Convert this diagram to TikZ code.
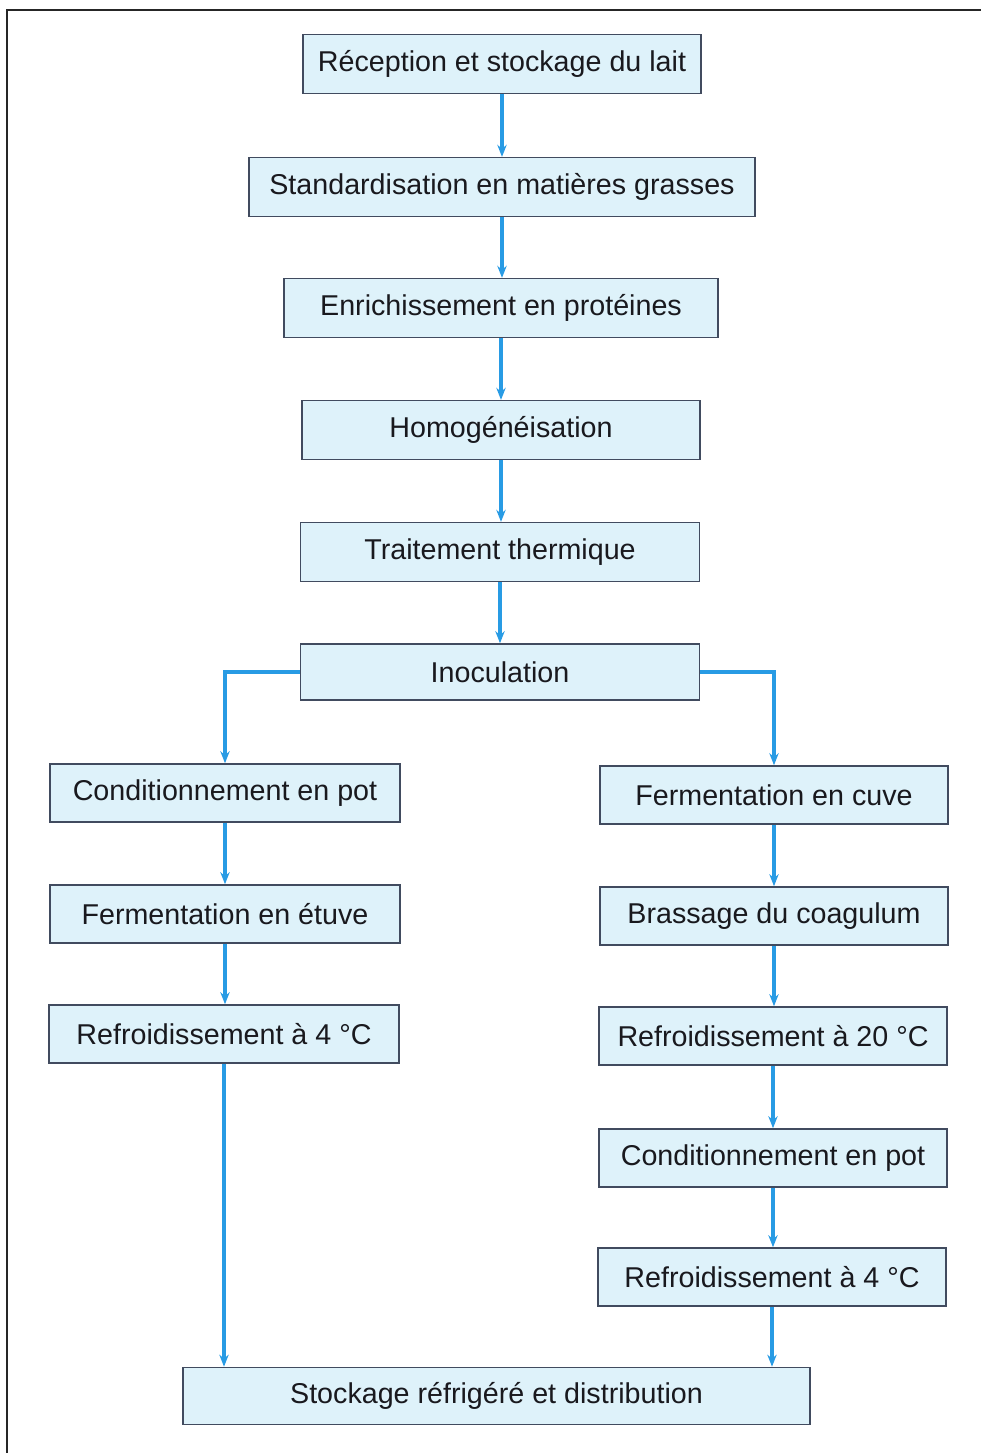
\documentclass[tikz,border=0pt]{standalone}
\usepackage{fontspec}
\setmainfont{Liberation Sans}
\usetikzlibrary{arrows.meta}
\definecolor{boxfill}{RGB}{222,242,250}
\definecolor{boxline}{RGB}{65,75,95}
\definecolor{arrowblue}{RGB}{40,155,228}
\definecolor{txt}{RGB}{25,25,30}
\tikzset{
  box/.style={draw=boxline, line width=1.2pt, fill=boxfill, inner sep=0pt,
    minimum height=44pt, text=txt, font=\fontsize{21.5}{24}\selectfont},
  flow/.style={draw=arrowblue, line width=2.3pt,
    -{Stealth[length=9pt,width=7pt]}},
  frame/.style={draw=black!85, line width=1.2pt}
}
\begin{document}
\begin{tikzpicture}[x=0.75pt,y=-0.75pt]
\useasboundingbox (0,0) rectangle (981,1453);
\draw[frame] (7,1453) -- (7,10) -- (981,10);
\node[box, minimum width=298.5pt] (rec) at (502,64) {Réception et stockage du lait};
\node[box, minimum width=379.5pt] (std) at (502,187) {Standardisation en matières grasses};
\node[box, minimum width=325.5pt] (enr) at (501,308) {Enrichissement en protéines};
\node[box, minimum width=298.5pt] (hom) at (501,430) {Homogénéisation};
\node[box, minimum width=299pt] (tra) at (500,552) {Traitement thermique};
\node[box, minimum width=299pt, minimum height=42pt] (ino) at (500,672) {Inoculation};
\node[box, minimum width=262.5pt, minimum height=43.5pt] (condl) at (225,793) {Conditionnement en pot};
\node[box, minimum width=262.5pt, minimum height=43.5pt] (etuv) at (225,914) {Fermentation en étuve};
\node[box, minimum width=262.5pt, minimum height=43.5pt] (refl) at (224,1034) {Refroidissement à 4 °C};
\node[box, minimum width=261pt, minimum height=43.5pt] (cuve) at (774,795) {Fermentation en cuve};
\node[box, minimum width=261pt, minimum height=43.5pt] (bras) at (774,916) {Brassage du coagulum};
\node[box, minimum width=261pt, minimum height=43.5pt] (ref20) at (773,1036) {Refroidissement à 20 °C};
\node[box, minimum width=261pt, minimum height=43.5pt] (condr) at (773,1158) {Conditionnement en pot};
\node[box, minimum width=261pt, minimum height=43.5pt] (refr) at (772,1277) {Refroidissement à 4 °C};
\node[box, minimum width=470pt, minimum height=42.75pt] (sto) at (496.5,1396) {Stockage réfrigéré et distribution};
\draw[flow] (rec.south) -- (rec.south |- std.north);
\draw[flow] (std.south) -- (std.south |- enr.north);
\draw[flow] (enr.south) -- (enr.south |- hom.north);
\draw[flow] (hom.south) -- (hom.south |- tra.north);
\draw[flow] (tra.south) -- (ino.north);
\draw[flow] (ino.west) -| (condl.north);
\draw[flow] (ino.east) -| (cuve.north);
\draw[flow] (condl.south) -- (condl.south |- etuv.north);
\draw[flow] (etuv.south) -- (etuv.south |- refl.north);
\draw[flow] (refl.south) -- (refl.south |- sto.north);
\draw[flow] (cuve.south) -- (cuve.south |- bras.north);
\draw[flow] (bras.south) -- (bras.south |- ref20.north);
\draw[flow] (ref20.south) -- (ref20.south |- condr.north);
\draw[flow] (condr.south) -- (condr.south |- refr.north);
\draw[flow] (refr.south) -- (refr.south |- sto.north);
\end{tikzpicture}
\end{document}
